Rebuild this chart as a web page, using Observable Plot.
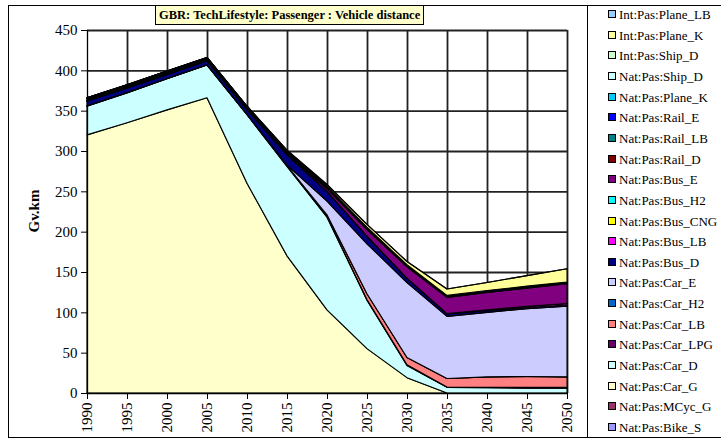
<!DOCTYPE html>
<html>
<head>
<meta charset="utf-8">
<script src="https://cdn.jsdelivr.net/npm/d3@7"></script>
<script src="https://cdn.jsdelivr.net/npm/@observablehq/plot@0.6"></script>
<style>
  html, body { margin: 0; padding: 0; background: #fff; }
  #wrap { position: relative; width: 721px; height: 440px; background: #fff; font-family: "Liberation Serif", "Times New Roman", serif; overflow: hidden; }
  #wrap svg { position: absolute; left: 0; top: 0; }
  .box { position: absolute; box-sizing: border-box; }
  .leg { position: absolute; left: 608px; font-family: "Liberation Serif", serif; font-size: 13px; line-height: 14px; white-space: nowrap; color: #000; }
  .leg span.sw { display: inline-block; width: 6px; height: 6px; border: 1px solid #000; margin-right: 3px; vertical-align: 1px; }
</style>
</head>
<body>
<div id="wrap"></div>
<script>
// ---- data (stack order bottom -> top) ----
const years = [1990, 1995, 2000, 2005, 2010, 2015, 2020, 2025, 2030, 2035, 2040, 2045, 2050];
const yTicks = [0, 50, 100, 150, 200, 250, 300, 350, 400, 450];

const seriesNames = [
  "Nat:Pas:Bike_S", "Nat:Pas:MCyc_G", "Nat:Pas:Car_G", "Nat:Pas:Car_D", "Nat:Pas:Car_LPG",
  "Nat:Pas:Car_LB", "Nat:Pas:Car_H2", "Nat:Pas:Car_E", "Nat:Pas:Bus_D", "Nat:Pas:Bus_LB",
  "Nat:Pas:Bus_CNG", "Nat:Pas:Bus_H2", "Nat:Pas:Bus_E", "Nat:Pas:Rail_D", "Nat:Pas:Rail_LB",
  "Nat:Pas:Rail_E", "Nat:Pas:Plane_K", "Nat:Pas:Ship_D", "Int:Pas:Ship_D", "Int:Pas:Plane_K",
  "Int:Pas:Plane_LB"
];
const seriesColors = [
  "#9999FF", "#993366", "#FFFFCC", "#CCFFFF", "#660066",
  "#FF8080", "#0066CC", "#CCCCFF", "#000080", "#FF00FF",
  "#FFFF00", "#00FFFF", "#800080", "#800000", "#008080",
  "#0000FF", "#00CCFF", "#CCFFFF", "#CCFFCC", "#FFFF99",
  "#99CCFF"
];

const bikeS      = [0, 0, 0, 0, 0, 0, 0, 0, 0, 0, 0, 0, 0];
const mcycG      = [0, 0, 0, 0, 0, 0, 0, 0, 0, 0, 0, 0, 0];
const carG       = [320, 335, 351, 366, 260, 170, 103, 55, 19, 0, 0, 0, 0];
const carD       = [35.5, 37, 38.5, 40.5, 85, 111, 115, 60, 15, 7, 6.5, 6, 6];
const carLPG     = [0.5, 0.5, 0.5, 0.5, 0.5, 0.5, 1, 1, 1, 0.5, 0.5, 1, 1];
const carLB      = [0, 0, 0, 0, 0, 0.5, 2, 7, 9, 10.5, 13, 13.5, 13];
const carH2      = [0, 0, 0, 0, 0, 0, 0, 0, 0, 0, 0, 0, 0];
const carE       = [0, 0, 0, 0, 0, 0.5, 17, 62, 93, 77, 80, 84, 87.5];
const busD       = [6, 5.5, 5, 5, 6, 13, 12, 9, 5, 3, 2, 1.5, 1.5];
const busLB      = [0, 0, 0, 0, 0, 0, 0, 0.5, 0.5, 0.5, 1, 1.5, 2];
const busCNG     = [0, 0, 0, 0, 0, 0, 0, 0, 0, 0, 0, 0, 0];
const busH2      = [0, 0, 0, 0, 0, 0, 0, 0, 0, 0, 0, 0, 0];
const busE       = [0, 0, 0, 0, 0, 0.5, 3, 8, 14, 20, 21.5, 22.5, 24.5];
const railD      = [1.5, 1.5, 1.5, 1.5, 1.5, 1.5, 1.5, 1, 1, 0.5, 0.5, 0.5, 0.5];
const railLB     = [0, 0, 0, 0, 0, 0, 0, 0, 0, 0.5, 0.5, 0.5, 0.5];
const railE      = [1.5, 1.5, 1.5, 1.5, 1.5, 2, 2, 2, 1.5, 1.5, 1.5, 1.5, 1];
const planeK     = [1, 1, 1, 1, 1, 0.5, 0, 0, 0, 0, 0, 0, 0];
const shipD      = [0, 0, 0, 0, 0, 0, 0, 0, 0, 0, 0, 0, 0];
const intShipD   = [0, 0, 0, 0, 0, 0, 0, 0, 0, 0, 0, 0, 0];
const intPlaneK  = [0, 0, 0, 0, 0, 1, 2, 3.5, 4, 8, 10, 13, 16.5];
const intPlaneLB = [0, 0, 0, 0, 0, 0, 0, 0, 0, 0, 0, 0, 0];

const seriesValues = [bikeS, mcycG, carG, carD, carLPG, carLB, carH2, carE, busD, busLB,
  busCNG, busH2, busE, railD, railLB, railE, planeK, shipD, intShipD, intPlaneK, intPlaneLB];

const titleText = "GBR: TechLifestyle: Passenger : Vehicle distance";
const yLabel = "Gv.km";

// ---- tidy table ----
const rows = [];
seriesNames.forEach((s, i) => {
  years.forEach((y, j) => rows.push({ series: s, year: y, value: seriesValues[i][j] }));
});

const chart = Plot.plot({
  width: 721,
  height: 440,
  marginLeft: 87,
  marginRight: 154,
  marginTop: 30,
  marginBottom: 47,
  style: { fontFamily: "Liberation Serif", fontSize: "15px", color: "#000", background: "transparent" },
  x: { domain: [1990, 2050] },
  y: { domain: [0, 450] },
  color: { domain: seriesNames, range: seriesColors },
  marks: [
    Plot.ruleY(yTicks.slice(1), { y: d => d, stroke: "#222", strokeWidth: 1.8 }),
    Plot.ruleX(years.slice(1), { x: d => d, stroke: "#222", strokeWidth: 1.8 }),
    Plot.areaY(rows, Plot.stackY({
      x: "year", y: "value", z: "series", fill: "series", order: seriesNames,
      stroke: "#000", strokeWidth: 1.1, fillOpacity: 1, curve: "linear"
    })),
    Plot.ruleY([0], { stroke: "#000", strokeWidth: 1.3 }),
    Plot.ruleX([1990], { stroke: "#000", strokeWidth: 1.3 }),
    Plot.axisY({ ticks: yTicks, tickSize: 6, tickPadding: 4, label: null, tickFormat: d => String(d) }),
    Plot.axisX({ ticks: years, tickSize: 6, tickPadding: 3, tickRotate: -90, label: null, tickFormat: d => String(d) })
  ]
});

const wrap = document.getElementById("wrap");
wrap.appendChild(chart);

// outer borders
const outer = document.createElement("div");
outer.className = "box";
Object.assign(outer.style, { left: "8px", top: "5px", width: "714px", height: "433px", border: "1px solid #000" });
wrap.appendChild(outer);
const legBorder = document.createElement("div");
legBorder.className = "box";
Object.assign(legBorder.style, { left: "587px", top: "5px", width: "1px", height: "433px", background: "#000" });
wrap.appendChild(legBorder);

// title
const title = document.createElement("div");
title.className = "box";
title.textContent = titleText;
Object.assign(title.style, { left: "155px", top: "5px", height: "20px", padding: "0 3px", border: "1px solid #000",
  background: "#FFFFCC", fontWeight: "bold", fontSize: "12.5px", lineHeight: "18px", whiteSpace: "nowrap" });
wrap.appendChild(title);

// y label
const yl = document.createElement("div");
yl.textContent = yLabel;
Object.assign(yl.style, { position: "absolute", left: "34px", top: "211px", fontWeight: "bold", fontSize: "15px",
  transform: "translate(-50%, -50%) rotate(-90deg)", whiteSpace: "nowrap" });
wrap.appendChild(yl);

// legend (top of stack first)
const legendNames = seriesNames.slice().reverse();
const legendColors = seriesColors.slice().reverse();
legendNames.forEach((name, i) => {
  const d = document.createElement("div");
  d.className = "leg";
  d.style.top = (15 + 20.65 * i - 7) + "px";
  const sw = document.createElement("span");
  sw.className = "sw";
  sw.style.background = legendColors[i];
  d.appendChild(sw);
  d.appendChild(document.createTextNode(name));
  wrap.appendChild(d);
});
</script>
</body>
</html>
